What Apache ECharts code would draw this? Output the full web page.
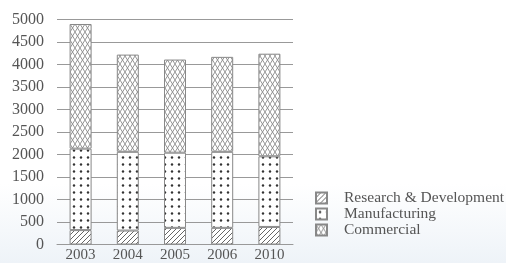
<!DOCTYPE html>
<html>
<head>
<meta charset="utf-8">
<script src="https://cdn.jsdelivr.net/npm/echarts@6/dist/echarts.min.js"></script>
<style>
  html, body { margin: 0; padding: 0; }
  body { background: linear-gradient(#ffffff 0%, #ffffff 70%, #eef3f8 100%); }
  #chart { width: 506px; height: 263px; }
</style>
</head>
<body>
<div id="chart"></div>
<script>
// values
const years = ['2003', '2004', '2005', '2006', '2010']
const research = [320, 310, 370, 370, 390]
const manufacturing = [1810, 1750, 1670, 1690, 1570]
const commercial = [2770, 2160, 2070, 2110, 2280]
const seriesNames = ['Research & Development', 'Manufacturing', 'Commercial']

// little canvas tiles for the bar fills
function hatchTile() {
  const c = document.createElement('canvas')
  c.width = 5
  c.height = 5
  const ctx = c.getContext('2d')
  ctx.fillStyle = '#fff'
  ctx.fillRect(0, 0, 5, 5)
  ctx.strokeStyle = '#666'
  ctx.lineWidth = 1
  ctx.beginPath()
  ctx.moveTo(-1, 6)
  ctx.lineTo(6, -1)
  ctx.moveTo(-1, 1)
  ctx.lineTo(1, -1)
  ctx.moveTo(4, 6)
  ctx.lineTo(6, 4)
  ctx.stroke()
  return c
}

function dotTile() {
  const c = document.createElement('canvas')
  c.width = 7
  c.height = 7
  const ctx = c.getContext('2d')
  ctx.fillStyle = '#fff'
  ctx.fillRect(0, 0, 7, 7)
  ctx.fillStyle = '#333'
  ctx.beginPath()
  ctx.arc(4, 3.5, 1.2, 0, Math.PI * 2)
  ctx.fill()
  return c
}

function lattice() {
  const c = document.createElement('canvas')
  c.width = 5
  c.height = 8
  const ctx = c.getContext('2d')
  ctx.fillStyle = '#fff'
  ctx.fillRect(0, 0, 5, 8)
  ctx.strokeStyle = '#888'
  ctx.lineWidth = 0.9
  ctx.beginPath()
  ctx.moveTo(0, 0)
  ctx.lineTo(5, 8)
  ctx.moveTo(5, 0)
  ctx.lineTo(0, 8)
  ctx.stroke()
  return c
}

const fills = [
  { image: hatchTile(), repeat: 'repeat' },
  { image: dotTile(), repeat: 'repeat' },
  { image: lattice(), repeat: 'repeat' }
]
const values = [research, manufacturing, commercial]

const chart = echarts.init(document.getElementById('chart'), null, { renderer: 'canvas' })

chart.setOption({
  animation: false,
  textStyle: { fontFamily: 'Liberation Serif' },
  grid: {
    left: 57,
    right: 213,
    top: 19.5,
    bottom: 18.5
  },
  legend: {
    orient: 'vertical',
    left: 315,
    top: 190,
    padding: 0,
    icon: 'rect',
    itemWidth: 11,
    itemHeight: 11,
    itemGap: 0,
    data: seriesNames,
    textStyle: {
      fontFamily: 'Liberation Serif',
      fontSize: 15.5,
      lineHeight: 16,
      color: '#555',
      padding: [0, 0, 0, 12]
    }
  },
  xAxis: {
    type: 'category',
    data: years,
    axisLine: { lineStyle: { color: '#999' } },
    axisTick: { show: false },
    axisLabel: {
      color: '#555',
      fontSize: 15,
      fontFamily: 'Liberation Serif',
      margin: 3
    }
  },
  yAxis: {
    type: 'value',
    min: 0,
    max: 5000,
    interval: 500,
    axisLine: { show: false },
    axisTick: { show: false },
    splitLine: { lineStyle: { color: '#999', width: 1 } },
    axisLabel: {
      color: '#555',
      fontSize: 16,
      fontFamily: 'Liberation Serif',
      margin: 13,
      formatter: v => String(v)
    }
  },
  series: seriesNames.map((name, i) => ({
    name: name,
    type: 'bar',
    stack: 'total',
    barWidth: 22,
    data: values[i],
    itemStyle: {
      color: fills[i],
      borderColor: '#888',
      borderWidth: 1
    }
  }))
})
</script>
</body>
</html>
